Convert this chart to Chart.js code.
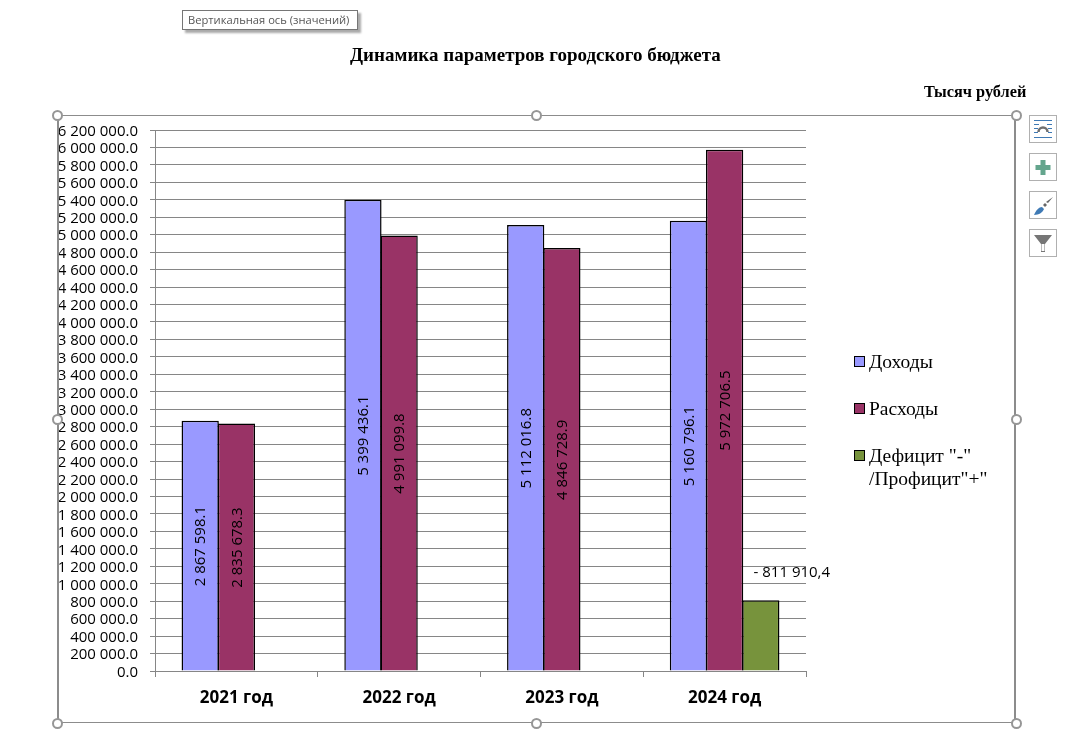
<!DOCTYPE html>
<html>
<head>
<meta charset="utf-8">
<script src="https://cdn.jsdelivr.net/npm/chart.js@4/dist/chart.umd.min.js"></script>
<style>
  html, body { margin: 0; padding: 0; background: #fff; }
  #page { position: relative; width: 1089px; height: 750px; overflow: hidden; }
  #page canvas { position: absolute; left: 0; top: 0; }
  .hint { position: absolute; left: 182px; top: 10px; width: 176px; height: 20px; box-sizing: border-box;
    border: 1px solid #767676; background: #fff; box-shadow: 3px 3px 2px #aaa;
    font: 11.2px "Open Sans", sans-serif; color: #575757; line-height: 18px; padding-left: 5px; white-space: nowrap; }
  .title { position: absolute; left: 350px; top: 44px; font: bold 19px "Liberation Serif", serif; color: #000; white-space: nowrap; }
  .unit { position: absolute; left: 924px; top: 82px; font: bold 16.3px "Liberation Serif", serif; color: #000; white-space: nowrap; }
  .frame { position: absolute; left: 57px; top: 115px; width: 959px; height: 608px; box-sizing: border-box; pointer-events: none;
    border-top: 1px solid #8c8c8c; border-bottom: 1px solid #8c8c8c; border-left: 2px solid #8c8c8c; border-right: 2px solid #8c8c8c; }
  .handle { position: absolute; width: 11px; height: 11px; box-sizing: border-box; border-radius: 50%; background: #fff; border: 2px solid #969696; }
  .btn { position: absolute; left: 1029px; width: 28px; height: 28px; box-sizing: border-box; border: 1px solid #b0b0b0; background: #fff; }
  .legend { position: absolute; left: 854px; top: 0; font: 19.5px "Liberation Serif", serif; color: #000; }
  .legend div { position: absolute; white-space: nowrap; line-height: 23px; left: 15px; }
  .legend i { position: absolute; left: 0; width: 9px; height: 9px; border: 1px solid #000; }
</style>
</head>
<body>
<div id="page">
  <canvas id="budgetPlot" width="1089" height="750"></canvas>
  <div class="frame"></div>
  <div class="hint">Вертикальная ось (значений)</div>
  <div class="title">Динамика параметров городского бюджета</div>
  <div class="unit">Тысяч рублей</div>
  <div class="legend" id="legend"></div>
  <div id="handles"></div>
  <div class="btn" style="top:115px"><svg width="26" height="26"><g stroke="#3f7ab5" stroke-width="1"><path d="M4 4.5h18M4 21.5h18M4 8.5h5M17 8.5h5M4 12.5h4M18 12.5h4M4 16.5h4M18 16.5h4"/></g><path d="M8.5 16 a4.5 4.5 0 0 1 9 0" fill="none" stroke="#6f6f6f" stroke-width="2.5"/></svg></div>
  <div class="btn" style="top:153px"><svg width="26" height="26"><path d="M10.5 6h5v5h5v5h-5v5h-5v-5h-5v-5h5z" fill="#64a58d"/></svg></div>
  <div class="btn" style="top:191px"><svg width="26" height="26"><path d="M23 5l-5 6-2-1z" fill="#666"/><path d="M15 11l2 2-2 2-2-2z" fill="#666"/><path d="M4 23c2-5 5-8 8-8l2 2c-1 3-5 6-10 6z" fill="#3f7ab5"/></svg></div>
  <div class="btn" style="top:229px"><svg width="26" height="26"><path d="M4 5h18l-7 9v8h-4v-8z" fill="#767676"/><path d="M11.5 14v7h3v-7" fill="#fff"/></svg></div>
</div>
<script>
const categories = ['2021 год', '2022 год', '2023 год', '2024 год']
const income = [2867598.1, 5399436.1, 5112016.8, 5160796.1]
const expense = [2835678.3, 4991099.8, 4846728.9, 5972706.5]
const deficit = [null, null, null, 811910.4]

const incomeLabels = ['2 867 598.1', '5 399 436.1', '5 112 016.8', '5 160 796.1']
const expenseLabels = ['2 835 678.3', '4 991 099.8', '4 846 728.9', '5 972 706.5']
const deficitLabels = [null, null, null, '- 811 910,4']

const legendItems = [
    { text: ['Доходы'], color: '#9999ff', top: 350 },
    { text: ['Расходы'], color: '#993366', top: 397 },
    { text: ['Дефицит "-"', '/Профицит"+"'], color: '#77933c', top: 444 }
]

const legendEl = document.getElementById('legend')
legendItems.forEach(item => {
    legendEl.innerHTML += `<i style="top:${item.top + 6}px;background:${item.color}"></i><div style="top:${item.top}px">${item.text.join('<br>')}</div>`
})

// selection handles around the chart frame
const handlesEl = document.getElementById('handles')
;[[57, 115], [536, 115], [1016, 115], [57, 419], [1016, 419], [57, 723], [536, 723], [1016, 723]].forEach(p => {
    handlesEl.innerHTML += `<div class="handle" style="left:${p[0] - 5}px;top:${p[1] - 5}px"></div>`
})

const barLabels = {
    id: 'barLabels',
    afterDatasetsDraw(chart) {
        const ctx = chart.ctx
        const sets = [incomeLabels, expenseLabels]
        ctx.save()
        ctx.fillStyle = '#000'
        ctx.font = '15px "Open Sans"'
        ctx.textAlign = 'center'
        ctx.textBaseline = 'middle'
        sets.forEach((labels, i) => {
            chart.getDatasetMeta(i).data.forEach((bar, j) => {
                ctx.save()
                ctx.translate(bar.x + 1, (bar.y + bar.base) / 2 + 0.5)
                ctx.rotate(-Math.PI / 2)
                ctx.fillText(labels[j], 0, 0)
                ctx.restore()
            })
        })
        // deficit label sits horizontally above its bar
        const green = chart.getDatasetMeta(2).data[3]
        ctx.fillText(deficitLabels[3], green.x + 31, green.y - 27)
        ctx.restore()
    }
}

new Chart(document.getElementById('budgetPlot'), {
    type: 'bar',
    data: {
        labels: categories,
        datasets: [
            { label: 'Доходы', data: income, backgroundColor: '#9999ff' },
            { label: 'Расходы', data: expense, backgroundColor: '#993366' },
            { label: 'Дефицит "-" /Профицит"+"', data: deficit, backgroundColor: '#77933c' }
        ].map(ds => ({ ...ds, borderColor: '#000', borderWidth: 1.5, barPercentage: 1.03, categoryPercentage: 0.667 }))
    },
    options: {
        responsive: false,
        animation: false,
        layout: { padding: { top: 130, right: 283, bottom: 0, left: 0 } },
        plugins: { legend: { display: false }, title: { display: false }, tooltip: { enabled: false } },
        scales: {
            x: {
                afterFit: scale => { scale.height = 79 },
                grid: { drawOnChartArea: false, color: '#868686', tickLength: 6 },
                border: { color: '#868686' },
                ticks: { color: '#000', font: { family: 'Open Sans', size: 17, weight: 'bold' }, padding: 11, maxRotation: 0 }
            },
            y: {
                min: 0,
                max: 6200000,
                afterFit: scale => { scale.width = 155 },
                grid: { color: '#868686', tickLength: 5 },
                border: { color: '#868686' },
                ticks: {
                    stepSize: 200000,
                    autoSkip: false,
                    color: '#000',
                    padding: 12,
                    // the blank first line nudges the label down a little, matching the reference
                    font: { family: 'Open Sans', size: 15, lineHeight: '3px' },
                    callback: v => ['', v.toFixed(1).replace(/\B(?=(\d{3})+(?!\d))/g, ' ')]
                }
            }
        }
    },
    plugins: [barLabels]
})
</script>
</body>
</html>
